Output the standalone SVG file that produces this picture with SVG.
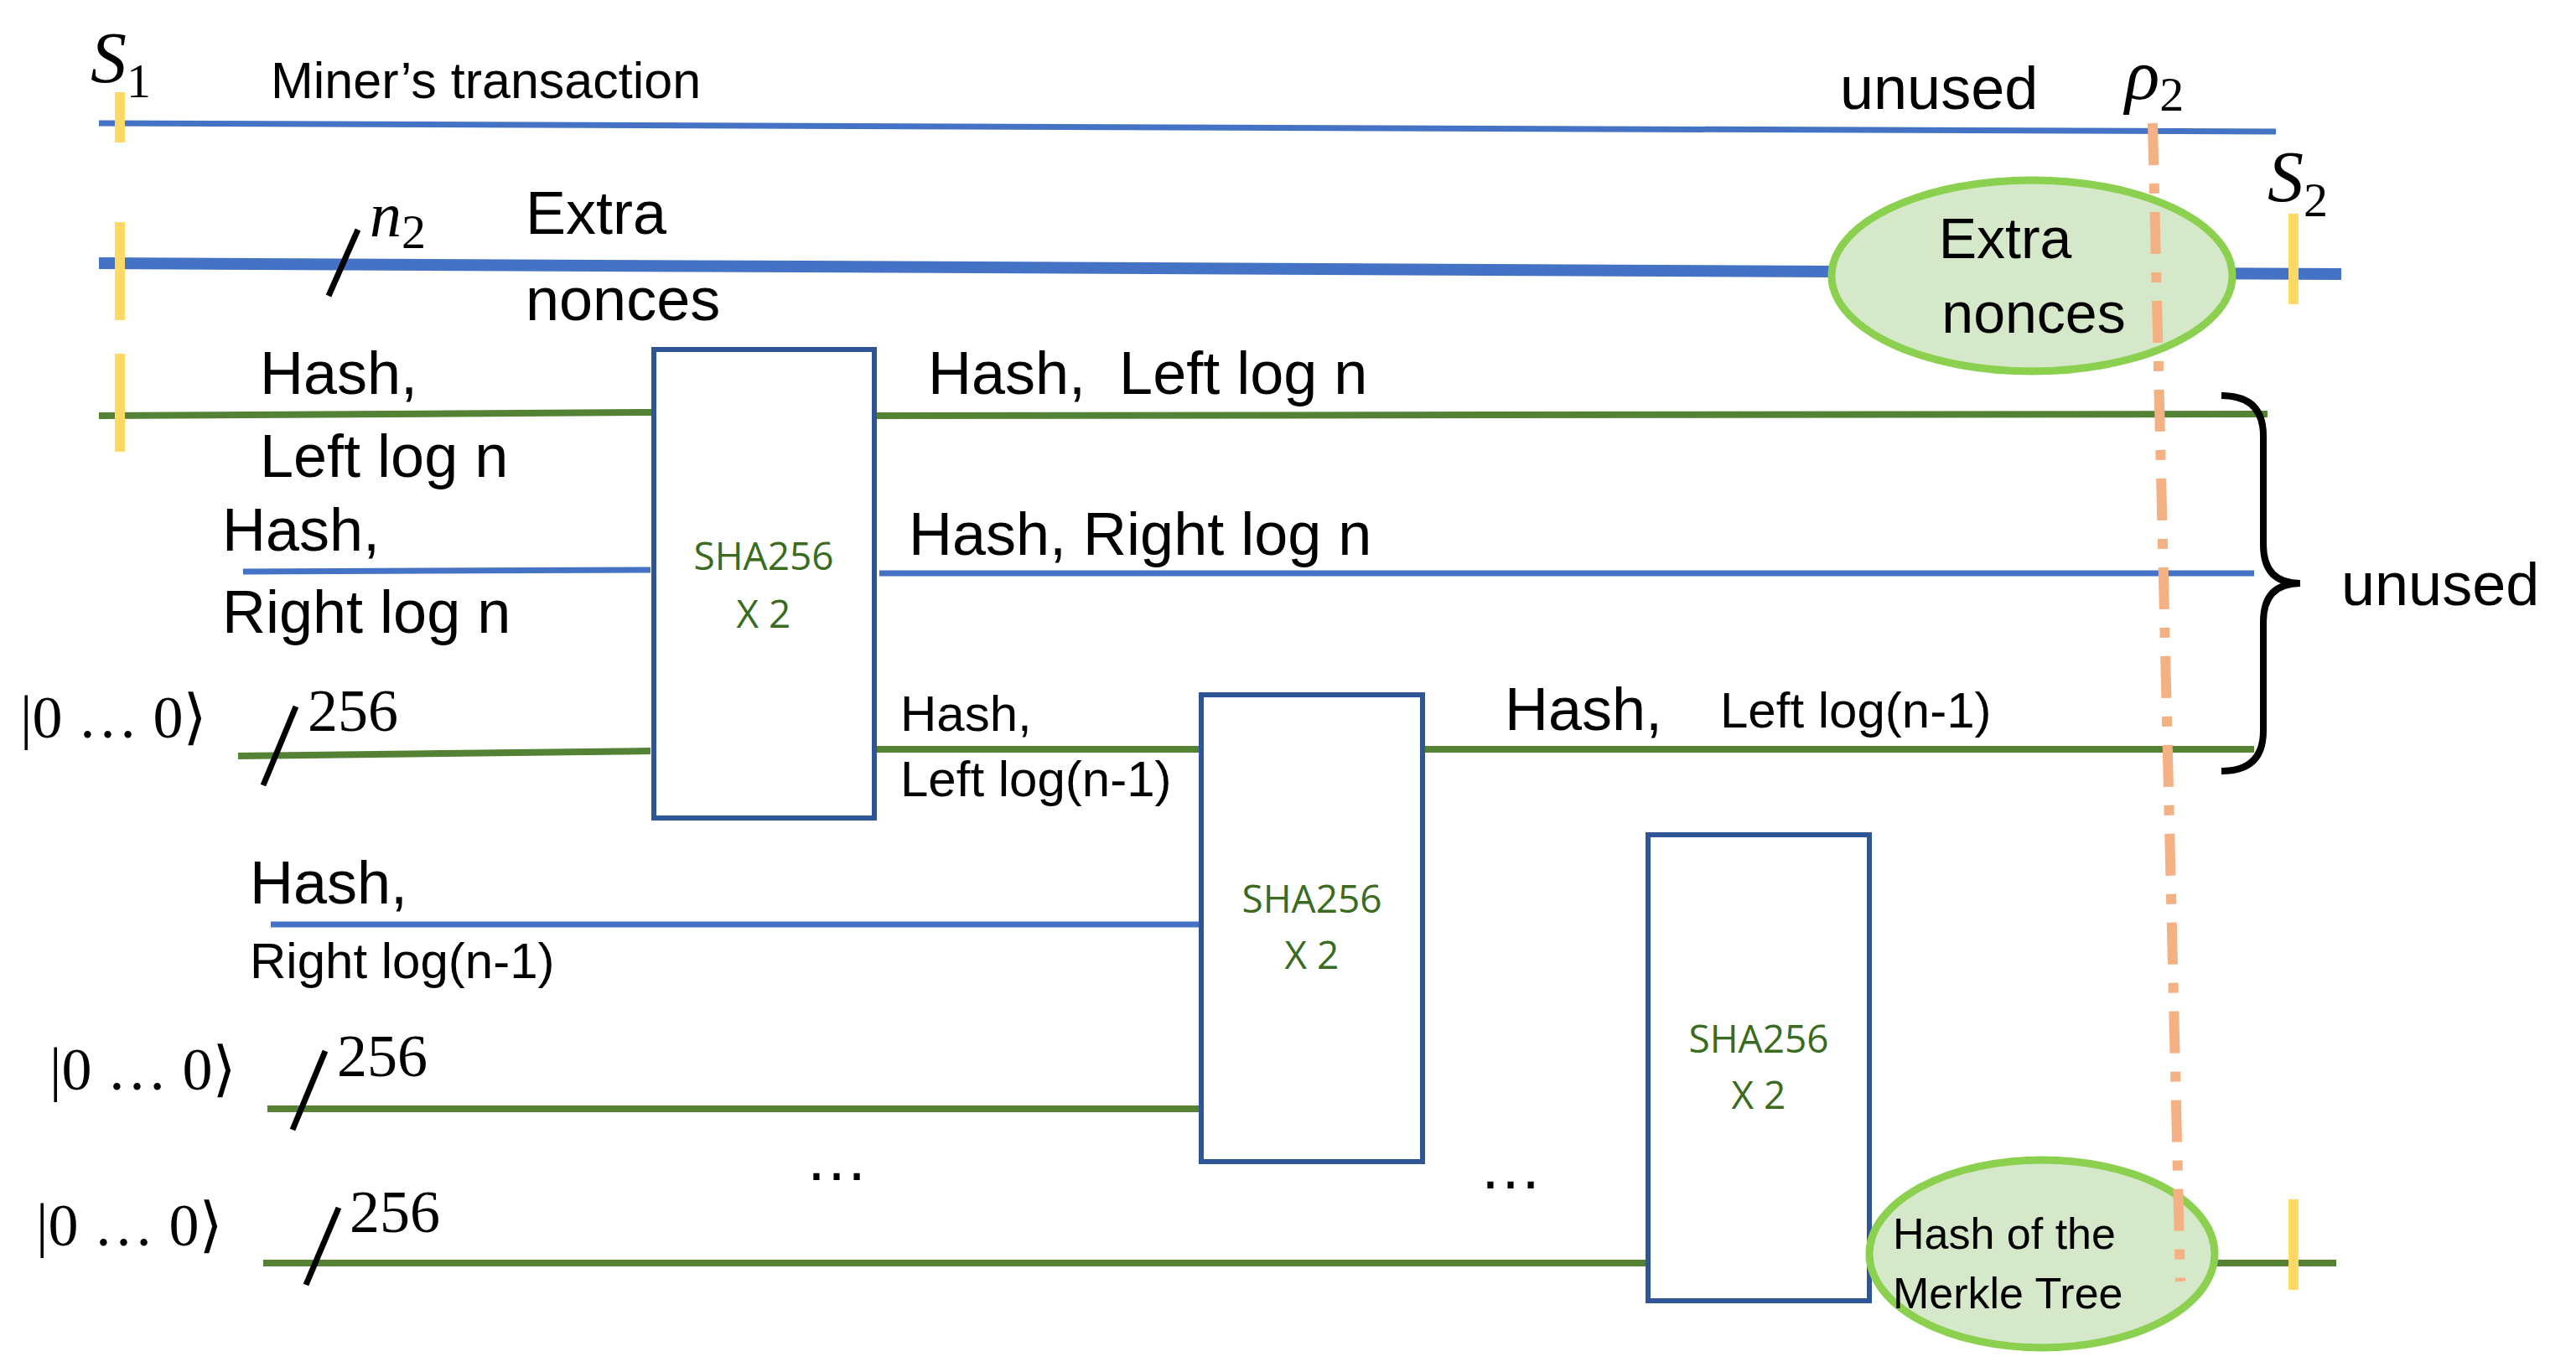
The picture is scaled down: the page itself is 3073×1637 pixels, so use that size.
<svg xmlns="http://www.w3.org/2000/svg" width="3073" height="1637" viewBox="0 0 3073 1637">
<style>
.t{font-family:"Liberation Sans",Arial,sans-serif;fill:#000}
.m{font-family:"Liberation Serif","DejaVu Serif",serif;fill:#000}
.sha{font-family:"Open Sans","Liberation Sans",sans-serif;fill:#3a6b1e;font-size:46px;text-anchor:middle}
.g{stroke:#548235;stroke-width:8;fill:none}
.b{stroke:#4472c4;stroke-width:7;fill:none}
.y{stroke:#ffd966;stroke-width:12}
.box{fill:#fff;stroke:#2f5597;stroke-width:6}
.ell{fill:#d5e8c9;stroke:#8cd04f;stroke-width:9}
.sl{stroke:#000;stroke-width:7}
</style>
<rect width="3073" height="1637" fill="#fff"/>
<g id="connectors">
<line class="b" x1="118" y1="147" x2="2715" y2="157"/>
<line class="b" x1="118" y1="314" x2="2793" y2="327" style="stroke-width:14"/>
<line class="g" x1="118" y1="496" x2="780" y2="492"/>
<line class="g" x1="1043" y1="496" x2="2705" y2="494"/>
<line class="b" x1="290" y1="682" x2="776" y2="680"/>
<line class="b" x1="1049" y1="684" x2="2689" y2="684"/>
<line class="g" x1="284" y1="902" x2="776" y2="896"/>
<line class="g" x1="1043" y1="894" x2="1433" y2="894"/>
<line class="g" x1="1697" y1="894" x2="2689" y2="894"/>
<line class="b" x1="323" y1="1103" x2="1433" y2="1103"/>
<line class="g" x1="319" y1="1323" x2="1433" y2="1323"/>
<line class="g" x1="314" y1="1507" x2="1966" y2="1507"/>
<line class="g" x1="2230" y1="1507" x2="2787" y2="1507"/>
<line class="sl" x1="392" y1="353" x2="427" y2="274"/>
<line class="sl" x1="314" y1="937" x2="353" y2="843"/>
<line class="sl" x1="349" y1="1348" x2="388" y2="1254"/>
<line class="sl" x1="365" y1="1533" x2="404" y2="1441"/>
</g>
<g id="markers">
<line class="y" x1="143" y1="110" x2="143" y2="170"/>
<line class="y" x1="143" y1="265" x2="143" y2="382"/>
<line class="y" x1="143" y1="422" x2="143" y2="539"/>
<line class="y" x1="2736" y1="255" x2="2736" y2="363"/>
<line class="y" x1="2736" y1="1431" x2="2736" y2="1539"/>
</g>
<g id="box1"><rect class="box" x="780" y="417" width="263" height="559"/><text class="sha" x="911" y="680">SHA256</text><text class="sha" x="911" y="749">X 2</text></g>
<g id="box2"><rect class="box" x="1433" y="829" width="264" height="557"/><text class="sha" x="1565" y="1089">SHA256</text><text class="sha" x="1565" y="1156">X 2</text></g>
<g id="box3"><rect class="box" x="1966" y="996" width="264" height="556"/><text class="sha" x="2098" y="1256">SHA256</text><text class="sha" x="2098" y="1323">X 2</text></g>
<g id="extra"><ellipse class="ell" cx="2424" cy="329" rx="239" ry="114"/><text class="t" x="2392" y="308" font-size="68" text-anchor="middle">Extra</text><text class="t" x="2426" y="397" font-size="68" text-anchor="middle">nonces</text></g>
<g id="merkle"><ellipse class="ell" cx="2436" cy="1496" rx="206" ry="112"/><text class="t" x="2258" y="1490" font-size="52">Hash of the</text><text class="t" x="2258" y="1561" font-size="52">Merkle Tree</text></g>
<line id="rho" x1="2568" y1="147" x2="2601" y2="1529" stroke="#f4b183" stroke-width="12" stroke-dasharray="50,22,12,22"/>
<g id="brace"><path d="M2650,472 Q2700,472 2700,520 L2700,650 Q2700,696 2744,696 Q2700,696 2700,742 L2700,872 Q2700,920 2650,920" fill="none" stroke="#000" stroke-width="8"/></g>
<g id="labels">
<text class="m" x="108" y="98" font-size="86" font-style="italic">S<tspan font-size="58" font-style="normal" dy="18">1</tspan></text>
<text class="t" x="323" y="117" font-size="61">Miner’s transaction</text>
<text class="t" x="2195" y="130" font-size="72">unused</text>
<text class="m" x="2535" y="118" font-size="86" font-style="italic">ρ<tspan font-size="58" font-style="normal" dy="14">2</tspan></text>
<text class="m" x="2705" y="240" font-size="86" font-style="italic">S<tspan font-size="58" font-style="normal" dy="18">2</tspan></text>
<text class="m" x="441" y="282" font-size="76" font-style="italic">n<tspan font-size="58" font-style="normal" dy="14">2</tspan></text>
<text class="t" x="627" y="279" font-size="72">Extra</text>
<text class="t" x="627" y="382" font-size="72">nonces</text>
<text class="t" x="310" y="470" font-size="72">Hash,</text>
<text class="t" x="310" y="569" font-size="72">Left log n</text>
<text class="t" x="1107" y="470" font-size="72" xml:space="preserve">Hash,  Left log n</text>
<text class="t" x="265" y="657" font-size="72">Hash,</text>
<text class="t" x="265" y="755" font-size="72">Right log n</text>
<text class="t" x="1084" y="662" font-size="72">Hash, Right log n</text>
<text class="m" x="24" y="880" font-size="72">|0 … 0⟩</text>
<text class="m" x="367" y="872" font-size="72">256</text>
<text class="t" x="1074" y="872" font-size="60">Hash,</text>
<text class="t" x="1074" y="950" font-size="60">Left log(n-1)</text>
<text class="t" x="1795" y="871" font-size="72">Hash,</text>
<text class="t" x="2052" y="868" font-size="60">Left log(n-1)</text>
<text class="t" x="2793" y="722" font-size="72">unused</text>
<text class="t" x="298" y="1078" font-size="72">Hash,</text>
<text class="t" x="298" y="1167" font-size="60">Right log(n-1)</text>
<text class="m" x="59" y="1300" font-size="72">|0 … 0⟩</text>
<text class="m" x="402" y="1284" font-size="72">256</text>
<text class="m" x="43" y="1486" font-size="72">|0 … 0⟩</text>
<text class="m" x="417" y="1470" font-size="72">256</text>
<text class="t" x="960" y="1408" font-size="76">…</text>
<text class="t" x="1764" y="1418" font-size="76">…</text>
</g>
</svg>
